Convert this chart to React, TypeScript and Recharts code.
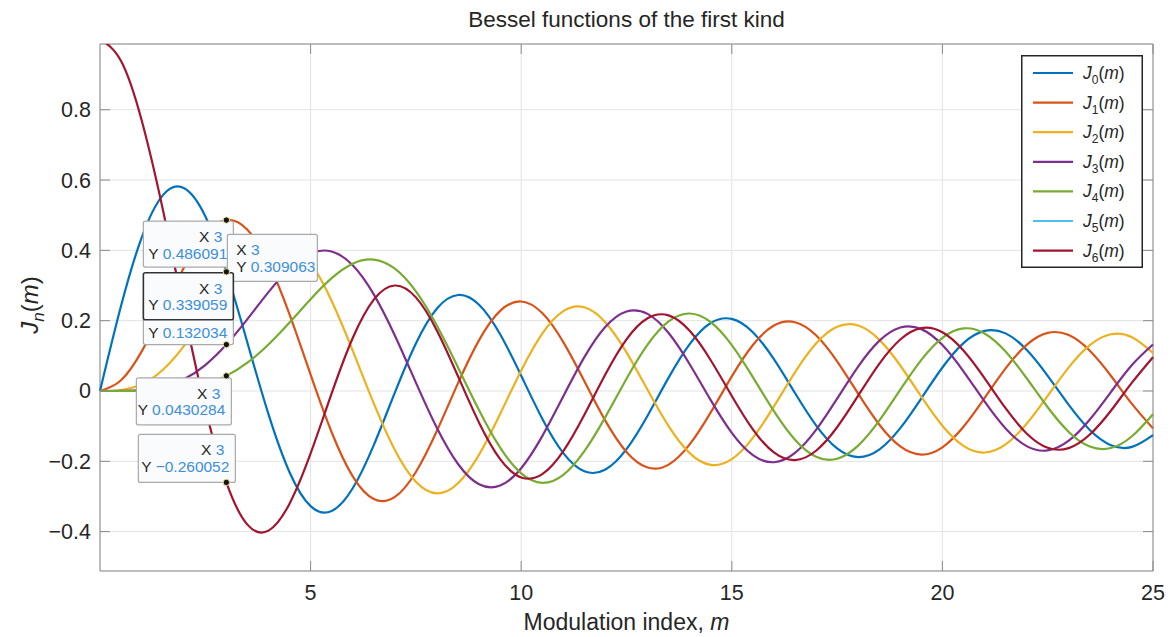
import { LineChart, Line, XAxis, YAxis, CartesianGrid, ReferenceArea, ReferenceDot, Legend } from 'recharts';

const PLOT_H = 527;
const PLOT_W = 1053;
const AXIS = '#8a8a8a';
const TEXT = '#262626';
const FONT = '"Liberation Sans", Arial, Helvetica, sans-serif';

// modulation index samples
const m = [
  0, 0.5, 1, 1.5, 2, 2.5, 3, 3.5, 4, 4.5, 5, 5.5, 6, 6.5, 7, 7.5, 8, 8.5, 9, 9.5,
  10, 10.5, 11, 11.5, 12, 12.5, 13, 13.5, 14, 14.5, 15, 15.5, 16, 16.5, 17, 17.5,
  18, 18.5, 19, 19.5, 20, 20.5, 21, 21.5, 22, 22.5, 23, 23.5, 24, 24.5, 25,
];

const j0 = [
  1, 0.9385, 0.7652, 0.5118, 0.2239, -0.0484, -0.2601, -0.3801, -0.3971, -0.3205,
  -0.1776, -0.0068, 0.1506, 0.2601, 0.3001, 0.2663, 0.1717, 0.0419, -0.0903, -0.1939,
  -0.2459, -0.2366, -0.1712, -0.0677, 0.0477, 0.1469, 0.2069, 0.215, 0.1711, 0.0875,
  -0.0142, -0.1092, -0.1749, -0.1964, -0.1699, -0.1031, -0.0134, 0.0772, 0.1466, 0.1789,
  0.167, 0.1151, 0.0366, -0.0489, -0.1207, -0.1615, -0.1624, -0.1239, -0.0562, 0.0237,
  0.0963,
];
const j1 = [
  0, 0.2423, 0.4401, 0.5579, 0.5767, 0.4971, 0.3391, 0.1374, -0.066, -0.2311,
  -0.3276, -0.3414, -0.2767, -0.1538, -0.0047, 0.1352, 0.2346, 0.2731, 0.2453, 0.1613,
  0.0435, -0.0788, -0.1768, -0.2284, -0.2234, -0.1655, -0.0703, 0.038, 0.1334, 0.1934,
  0.2051, 0.1672, 0.0904, -0.0058, -0.0977, -0.1634, -0.188, -0.1666, -0.1057, -0.0209,
  0.0668, 0.1363, 0.1711, 0.1639, 0.1172, 0.0432, -0.0395, -0.1109, -0.154, -0.159,
  -0.1254,
];
const j2 = [
  0, 0.0306, 0.1149, 0.2321, 0.3528, 0.4461, 0.4861, 0.4586, 0.3641, 0.2179,
  0.0466, -0.1173, -0.2429, -0.3074, -0.3014, -0.2303, -0.113, 0.0223, 0.1448, 0.2279,
  0.2546, 0.2216, 0.139, 0.0279, -0.0849, -0.1734, -0.2177, -0.2094, -0.152, -0.0609,
  0.0416, 0.1308, 0.1862, 0.1957, 0.1584, 0.0844, -0.0075, -0.0952, -0.1578, -0.181,
  -0.1603, -0.1018, -0.0203, 0.0642, 0.1313, 0.1654, 0.159, 0.1145, 0.0434, -0.0367,
  -0.1063,
];
const j3 = [
  0, 0.0026, 0.0196, 0.061, 0.1289, 0.2166, 0.3091, 0.3868, 0.4302, 0.4247,
  0.3648, 0.2561, 0.1148, -0.0353, -0.1676, -0.2581, -0.2911, -0.2626, -0.1809, -0.0653,
  0.0584, 0.1633, 0.2273, 0.2381, 0.1951, 0.11, 0.0033, -0.1001, -0.1768, -0.2102,
  -0.194, -0.1335, -0.0438, 0.0532, 0.1349, 0.1827, 0.1863, 0.1461, 0.0725, -0.0163,
  -0.0989, -0.1561, -0.175, -0.1519, -0.0933, -0.0138, 0.0672, 0.1304, 0.1613, 0.153,
  0.1083,
];
const j4 = [
  0, 0.0002, 0.0025, 0.0118, 0.034, 0.0738, 0.132, 0.2044, 0.2811, 0.3484,
  0.3912, 0.3967, 0.3576, 0.2748, 0.1578, 0.0238, -0.1054, -0.2077, -0.2655, -0.2691,
  -0.2196, -0.1283, -0.015, 0.0963, 0.1825, 0.2262, 0.2193, 0.1649, 0.0762, -0.0261,
  -0.1192, -0.1825, -0.2026, -0.1763, -0.1107, -0.0218, 0.0696, 0.1425, 0.1806, 0.176,
  0.1307, 0.0561, -0.0297, -0.1066, -0.1568, -0.1691, -0.1415, -0.0812, -0.0031, 0.0741,
  0.1323,
];
const j5 = [
  0, 0, 0.0003, 0.0018, 0.007, 0.0195, 0.043, 0.0804, 0.1321, 0.1947,
  0.2611, 0.3209, 0.3621, 0.3736, 0.3479, 0.2835, 0.1858, 0.0671, -0.055, -0.1613,
  -0.2341, -0.2611, -0.2383, -0.1711, -0.0735, 0.0347, 0.1316, 0.1978, 0.2204, 0.1958,
  0.1305, 0.0393, -0.0575, -0.1387, -0.187, -0.1927, -0.1554, -0.0844, 0.0036, 0.0885,
  0.1512, 0.178, 0.1637, 0.1123, 0.0363, -0.0463, -0.1164, -0.1581, -0.1623, -0.1288,
  -0.066,
];

const xTicks = [5, 10, 15, 20, 25];
const yTicks = [-0.4, -0.2, 0, 0.2, 0.4, 0.6, 0.8];
const yDomain = [-0.512, 0.987];

// drawn series, in plotting order (colour as in the picture)
const series = [
  { key: 'j1', color: '#0072BD' },
  { key: 'j2', color: '#D95319' },
  { key: 'j3', color: '#EDB120' },
  { key: 'j4', color: '#7E2F8E' },
  { key: 'j5', color: '#77AC30' },
  { key: 'j0', color: '#A2142F' },
];

const legendOrders = [0, 1, 2, 3, 4, 5, 6];
const legendColors = ['#0072BD', '#D95319', '#EDB120', '#7E2F8E', '#77AC30', '#4DBEEE', '#A2142F'];

// data tips at m = 3
const tipX = 3;
const tipValues = [0.486091, 0.309063, 0.132034, 0.339059, 0.0430284, -0.260052];
const tipLabels = ['0.486091', '0.309063', '0.132034', '0.339059', '0.0430284', '\u22120.260052'];
const tipBoxes = [
  { dx: -83, dy: 1, w: 90, h: 46, side: 'left', dark: false, showX: true },
  { dx: 1, dy: -48, w: 90, h: 47, side: 'right', dark: false, showX: true },
  { dx: -83, dy: -44, w: 90, h: 44, side: 'left', dark: false, showX: false }, // X row hidden under the next tip
  { dx: -83, dy: 1, w: 90, h: 47, side: 'left', dark: true, showX: true },
  { dx: -90, dy: 2, w: 95, h: 47, side: 'left', dark: false, showX: true },
  { dx: -88, dy: -48, w: 97, h: 48, side: 'left', dark: false, showX: true },
];

const data = m.map((v, i) => ({ m: v, j0: j0[i], j1: j1[i], j2: j2[i], j3: j3[i], j4: j4[i], j5: j5[i] }));

const fmt = (v: number) => String(v).replace('-', '\u2212');

function XTick({ x, y, payload }: any) {
  return (
    <g>
      <line x1={x} y1={y} x2={x} y2={y - 10} stroke={AXIS} />
      <line x1={x} y1={y - PLOT_H} x2={x} y2={y - PLOT_H + 10} stroke={AXIS} />
      <text x={x} y={y + 29} textAnchor="middle" fontSize={21.5} fill={TEXT} fontFamily={FONT}>
        {payload.value}
      </text>
    </g>
  );
}

function YTick({ x, y, payload }: any) {
  return (
    <g>
      <line x1={x} y1={y} x2={x + 10} y2={y} stroke={AXIS} />
      <line x1={x + PLOT_W} y1={y} x2={x + PLOT_W - 10} y2={y} stroke={AXIS} />
      <text x={x - 9} y={y + 7.5} textAnchor="end" fontSize={21.5} fill={TEXT} fontFamily={FONT}>
        {fmt(payload.value)}
      </text>
    </g>
  );
}

function DataTip({ cx, cy, i }: any) {
  const b = tipBoxes[i];
  const left = cx + b.dx;
  const top = cy + b.dy;
  const right = left + b.w;
  const isLeft = b.side === 'left';
  return (
    <g fontFamily={FONT} fontSize={15.5}>
      <rect
        x={left}
        y={top}
        width={b.w}
        height={b.h}
        rx={2}
        fill="#fafbfd"
        stroke={b.dark ? '#333' : '#a9a9a9'}
        strokeWidth={b.dark ? 1.6 : 1.2}
      />
      {b.showX && (
        <text x={isLeft ? right - 11 : left + 9} y={top + 21} textAnchor={isLeft ? 'end' : 'start'} fill={TEXT}>
          X <tspan fill="#3d8fdc">{tipX}</tspan>
        </text>
      )}
      <text x={isLeft ? right - 6 : left + 9} y={top + 37.5} textAnchor={isLeft ? 'end' : 'start'} fill={TEXT}>
        Y <tspan fill="#3d8fdc">{tipLabels[i]}</tspan>
      </text>
      <circle cx={cx} cy={cy} r={3.2} fill="#151515" stroke="#efe3a0" strokeWidth={1} />
    </g>
  );
}

function LegendBox() {
  return (
    <svg width={122} height={213} style={{ display: 'block' }}>
      <rect x={0.75} y={0.75} width={120.5} height={211.5} fill="#fff" stroke={TEXT} strokeWidth={1.5} />
      {legendOrders.map((n, i) => {
        const cy = 18 + i * 29.6;
        return (
          <g key={n}>
            <line x1={12} y1={cy} x2={52} y2={cy} stroke={legendColors[i]} strokeWidth={2.2} />
            <text x={62} y={cy + 6} fontSize={17.5} fill={TEXT} fontFamily={FONT}>
              <tspan fontStyle="italic">J</tspan>
              <tspan fontSize={12} dy={5}>{n}</tspan>
              <tspan dy={-5}>(</tspan>
              <tspan fontStyle="italic">m</tspan>
              <tspan>)</tspan>
            </text>
          </g>
        );
      })}
    </svg>
  );
}

const xLabel = (p: any) => {
  const vb = p.viewBox;
  return (
    <text x={vb.x + vb.width / 2} y={vb.y + 59} textAnchor="middle" fontSize={23} fill={TEXT} fontFamily={FONT}>
      Modulation index, <tspan fontStyle="italic">m</tspan>
    </text>
  );
};

const yLabel = () => (
  <text x={30} y={297} transform="rotate(-90 30 297)" textAnchor="middle" fontSize={24} fill={TEXT} fontFamily={FONT}>
    <tspan fontStyle="italic">J</tspan>
    <tspan fontStyle="italic" fontSize={17} dy={6}>n</tspan>
    <tspan dy={-6}>(</tspan>
    <tspan fontStyle="italic">m</tspan>
    <tspan>)</tspan>
  </text>
);

export default function App() {
  return (
    <div style={{ position: 'absolute', left: 8, top: 8, width: 1157, height: 628, background: '#fff' }}>
      <div
        style={{
          position: 'absolute',
          left: 318.5,
          top: 0,
          width: 600,
          lineHeight: '24px',
          textAlign: 'center',
          fontSize: 22.5,
          color: TEXT,
          fontFamily: FONT,
        }}
      >
        Bessel functions of the first kind
      </div>
      <LineChart width={1157} height={628} data={data} margin={{ top: 36, right: 12, bottom: 35, left: 32 }}>
        <CartesianGrid stroke="#e3e3e3" strokeWidth={1} />
        <XAxis
          dataKey="m"
          type="number"
          domain={[0, 25]}
          ticks={xTicks}
          interval={0}
          height={30}
          tickSize={0}
          tickMargin={0}
          axisLine={false}
          tickLine={false}
          tick={(p: any) => <XTick {...p} />}
          label={xLabel}
        />
        <YAxis
          type="number"
          domain={yDomain}
          allowDataOverflow
          ticks={yTicks}
          interval={0}
          width={60}
          tickSize={0}
          tickMargin={0}
          axisLine={false}
          tickLine={false}
          tick={(p: any) => <YTick {...p} />}
          label={yLabel}
        />
        {series.map((s) => (
          <Line
            key={s.key}
            dataKey={s.key}
            type="natural"
            stroke={s.color}
            strokeWidth={2.2}
            dot={false}
            activeDot={false}
            isAnimationActive={false}
          />
        ))}
        <ReferenceArea
          x1={0}
          x2={25}
          y1={yDomain[0]}
          y2={yDomain[1]}
          fill="none"
          fillOpacity={0}
          stroke={AXIS}
          strokeWidth={1}
          ifOverflow="visible"
        />
        {tipValues.map((v, i) => (
          <ReferenceDot
            key={i}
            x={tipX}
            y={v}
            r={3}
            ifOverflow="visible"
            shape={(p: any) => <DataTip cx={p.cx} cy={p.cy} i={i} />}
          />
        ))}
        <Legend
          layout="vertical"
          align="center"
          verticalAlign="middle"
          wrapperStyle={{ top: 47, left: 1013, width: 122, height: 213 }}
          content={() => <LegendBox />}
        />
      </LineChart>
    </div>
  );
}
